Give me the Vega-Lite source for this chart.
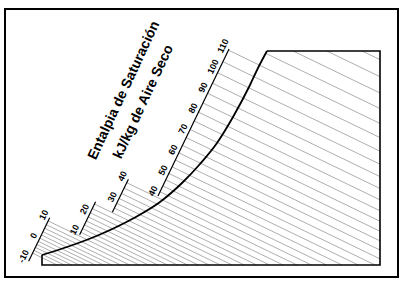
{
  "$schema": "https://vega.github.io/schema/vega-lite/v6.json",
  "width": 405,
  "height": 285,
  "autosize": {"type": "fit", "contains": "padding"},
  "padding": 0,
  "background": "white",
  "config": {"view": {"stroke": null}},
  "datasets": {
    "marco": [{"t1": -17.4, "t2": 61.2, "w1": -2.4, "w2": 51.2}],
    "entalpia": [
      {"tbh":-10,"h":-6.07,"t1":-11.88,"w1":2.37,"t2":-6.98,"w2":0},
      {"tbh":-9,"h":-4.71,"t1":-11.61,"w1":2.93,"t2":-5.54,"w2":0},
      {"tbh":-8,"h":-3.3,"t1":-11.32,"w1":3.52,"t2":-4.05,"w2":0},
      {"tbh":-7,"h":-1.86,"t1":-11.04,"w1":4.11,"t2":-2.53,"w2":0},
      {"tbh":-6,"h":-0.38,"t1":-10.74,"w1":4.73,"t2":-0.96,"w2":0},
      {"tbh":-5,"h":1.14,"t1":-10.43,"w1":5.36,"t2":0.65,"w2":0},
      {"tbh":-4,"h":2.7,"t1":-10.12,"w1":6.0,"t2":2.29,"w2":0},
      {"tbh":-3,"h":4.3,"t1":-9.8,"w1":6.66,"t2":3.99,"w2":0},
      {"tbh":-2,"h":5.96,"t1":-9.47,"w1":7.35,"t2":5.74,"w2":0},
      {"tbh":-1,"h":7.67,"t1":-9.13,"w1":8.06,"t2":7.55,"w2":0},
      {"tbh":0,"h":9.48,"t1":-8.76,"w1":8.81,"t2":9.46,"w2":0},
      {"tbh":1,"h":11.21,"t1":-2.24,"w1":6.54,"t2":11.29,"w2":0},
      {"tbh":2,"h":12.98,"t1":-1.88,"w1":7.27,"t2":13.17,"w2":0},
      {"tbh":3,"h":14.82,"t1":-1.52,"w1":8.04,"t2":15.11,"w2":0},
      {"tbh":4,"h":16.7,"t1":-1.14,"w1":8.82,"t2":17.1,"w2":0},
      {"tbh":5,"h":18.63,"t1":-0.75,"w1":9.62,"t2":19.14,"w2":0},
      {"tbh":6,"h":20.64,"t1":-0.35,"w1":10.45,"t2":21.27,"w2":0},
      {"tbh":7,"h":22.7,"t1":0.06,"w1":11.3,"t2":23.45,"w2":0},
      {"tbh":8,"h":24.84,"t1":0.49,"w1":12.19,"t2":25.71,"w2":0},
      {"tbh":9,"h":27.04,"t1":4.48,"w1":11.38,"t2":28.03,"w2":0},
      {"tbh":10,"h":29.32,"t1":4.94,"w1":12.33,"t2":30.45,"w2":0},
      {"tbh":11,"h":31.69,"t1":5.41,"w1":13.31,"t2":32.95,"w2":0},
      {"tbh":12,"h":34.13,"t1":5.9,"w1":14.32,"t2":35.53,"w2":0},
      {"tbh":13,"h":36.68,"t1":6.41,"w1":15.38,"t2":38.23,"w2":0},
      {"tbh":14,"h":39.3,"t1":6.94,"w1":16.46,"t2":41.0,"w2":0},
      {"tbh":15,"h":42.04,"t1":13.6,"w1":14.64,"t2":43.9,"w2":0},
      {"tbh":16,"h":44.88,"t1":14.17,"w1":15.82,"t2":46.9,"w2":0},
      {"tbh":17,"h":47.82,"t1":14.76,"w1":17.04,"t2":50.01,"w2":0},
      {"tbh":18,"h":50.89,"t1":15.37,"w1":18.31,"t2":53.26,"w2":0},
      {"tbh":19,"h":54.07,"t1":16.01,"w1":19.63,"t2":56.62,"w2":0},
      {"tbh":20,"h":57.39,"t1":16.67,"w1":21.0,"t2":57.6,"w2":1.22},
      {"tbh":21,"h":60.85,"t1":17.37,"w1":22.44,"t2":57.6,"w2":2.99},
      {"tbh":22,"h":64.44,"t1":18.09,"w1":23.92,"t2":57.6,"w2":4.82},
      {"tbh":23,"h":68.21,"t1":18.84,"w1":25.49,"t2":57.6,"w2":6.75},
      {"tbh":24,"h":72.12,"t1":19.62,"w1":27.11,"t2":57.6,"w2":8.75},
      {"tbh":25,"h":76.21,"t1":20.44,"w1":28.8,"t2":57.6,"w2":10.84},
      {"tbh":26,"h":80.48,"t1":21.3,"w1":30.57,"t2":57.6,"w2":13.02},
      {"tbh":27,"h":84.93,"t1":22.19,"w1":32.41,"t2":57.6,"w2":15.3},
      {"tbh":28,"h":89.59,"t1":23.12,"w1":34.34,"t2":57.6,"w2":17.68},
      {"tbh":29,"h":94.45,"t1":24.1,"w1":36.36,"t2":57.6,"w2":20.16},
      {"tbh":30,"h":99.53,"t1":25.11,"w1":38.46,"t2":57.6,"w2":22.76},
      {"tbh":31,"h":104.85,"t1":26.18,"w1":40.67,"t2":57.6,"w2":25.48},
      {"tbh":32,"h":110.4,"t1":27.29,"w1":42.97,"t2":57.6,"w2":28.31},
      {"tbh":33,"h":116.22,"t1":34.75,"w1":42.33,"t2":57.6,"w2":31.29},
      {"tbh":34,"h":122.3,"t1":40.22,"w1":42.8,"t2":57.6,"w2":34.4},
      {"tbh":35,"h":128.68,"t1":46.96,"w1":42.8,"t2":57.6,"w2":37.66},
      {"tbh":36,"h":135.36,"t1":54.03,"w1":42.8,"t2":57.6,"w2":41.07}
    ],
    "escalas": [
      {"tramo":"1","t1":-12.67,"w1":0.74,"t2":-8.46,"w2":9.45},
      {"tramo":"2","t1":-2.48,"w1":6.04,"t2":0.72,"w2":12.67},
      {"tramo":"3","t1":4.07,"w1":10.54,"t2":7.28,"w2":17.17},
      {"tramo":"4","t1":13.19,"w1":13.8,"t2":27.41,"w2":43.21}
    ],
    "etiquetas": [
      {"texto":"-10","t":-13.67,"w":1.74},
      {"texto":"0","t":-11.66,"w":5.88},
      {"texto":"10","t":-9.66,"w":10.03},
      {"texto":"10","t":-3.48,"w":7.04},
      {"texto":"20","t":-1.48,"w":11.18},
      {"texto":"30","t":4.07,"w":13.61},
      {"texto":"40","t":6.08,"w":17.75},
      {"texto":"40","t":12.19,"w":14.8},
      {"texto":"50","t":14.19,"w":18.94},
      {"texto":"60","t":16.2,"w":23.08},
      {"texto":"70","t":18.2,"w":27.23},
      {"texto":"80","t":20.2,"w":31.37},
      {"texto":"90","t":22.2,"w":35.51},
      {"texto":"100","t":24.21,"w":39.66},
      {"texto":"110","t":26.21,"w":43.8}
    ],
    "bordes": [
      {"orden":1,"t":35,"w":42.8},
      {"orden":2,"t":57.6,"w":42.8},
      {"orden":3,"t":57.6,"w":0},
      {"orden":4,"t":-10,"w":0},
      {"orden":5,"t":-10,"w":2}
    ],
    "saturacion": [
      {"t":-10,"w":2},
      {"t":-5,"w":3.6},
      {"t":1.6,"w":6.1},
      {"t":8.2,"w":9.3},
      {"t":13.6,"w":12.6},
      {"t":18.2,"w":16.6},
      {"t":21.6,"w":20.2},
      {"t":25,"w":24.4},
      {"t":28.2,"w":29.6},
      {"t":31.6,"w":36},
      {"t":33.2,"w":39.4},
      {"t":35,"w":42.8}
    ],
    "titulo": [
      {"texto":"Entalpia de Saturación","t":6.4,"w":34.9},
      {"texto":"kJ/kg de Aire Seco","t":10.3,"w":32.6}
    ]
  },
  "layer": [
    {
      "data": {"name": "marco"},
      "mark": {"type": "rect", "fill": null, "fillOpacity": 0, "stroke": "black", "strokeWidth": 2},
      "encoding": {
        "x": {"field": "t1", "type": "quantitative", "scale": {"domain": [-18.4, 62.6], "nice": false, "zero": false}, "axis": null},
        "x2": {"field": "t2"},
        "y": {"field": "w1", "type": "quantitative", "scale": {"domain": [-4, 53], "nice": false, "zero": false}, "axis": null},
        "y2": {"field": "w2"}
      }
    },
    {
      "data": {"name": "entalpia"},
      "mark": {"type": "rule", "color": "#999999", "strokeWidth": 0.8},
      "encoding": {
        "x": {"field": "t1", "type": "quantitative"},
        "y": {"field": "w1", "type": "quantitative"},
        "x2": {"field": "t2"},
        "y2": {"field": "w2"}
      }
    },
    {
      "data": {"name": "escalas"},
      "mark": {"type": "rule", "color": "black", "strokeWidth": 1.2},
      "encoding": {
        "x": {"field": "t1", "type": "quantitative"},
        "y": {"field": "w1", "type": "quantitative"},
        "x2": {"field": "t2"},
        "y2": {"field": "w2"}
      }
    },
    {
      "data": {"name": "bordes"},
      "mark": {"type": "line", "color": "black", "strokeWidth": 1.6},
      "encoding": {
        "x": {"field": "t", "type": "quantitative"},
        "y": {"field": "w", "type": "quantitative"},
        "order": {"field": "orden"}
      }
    },
    {
      "data": {"name": "saturacion"},
      "mark": {"type": "line", "color": "black", "strokeWidth": 1.8, "interpolate": "monotone"},
      "encoding": {
        "x": {"field": "t", "type": "quantitative"},
        "y": {"field": "w", "type": "quantitative"}
      }
    },
    {
      "data": {"name": "etiquetas"},
      "mark": {"type": "text", "angle": -64, "font": "Liberation Sans", "fontSize": 9, "fontWeight": "bold", "color": "black", "align": "center", "baseline": "middle"},
      "encoding": {
        "x": {"field": "t", "type": "quantitative"},
        "y": {"field": "w", "type": "quantitative"},
        "text": {"field": "texto"}
      }
    },
    {
      "data": {"name": "titulo"},
      "mark": {"type": "text", "angle": -65, "font": "Liberation Sans", "fontSize": 14, "fontWeight": "bold", "color": "black", "align": "center", "baseline": "middle"},
      "encoding": {
        "x": {"field": "t", "type": "quantitative"},
        "y": {"field": "w", "type": "quantitative"},
        "text": {"field": "texto"}
      }
    }
  ]
}
